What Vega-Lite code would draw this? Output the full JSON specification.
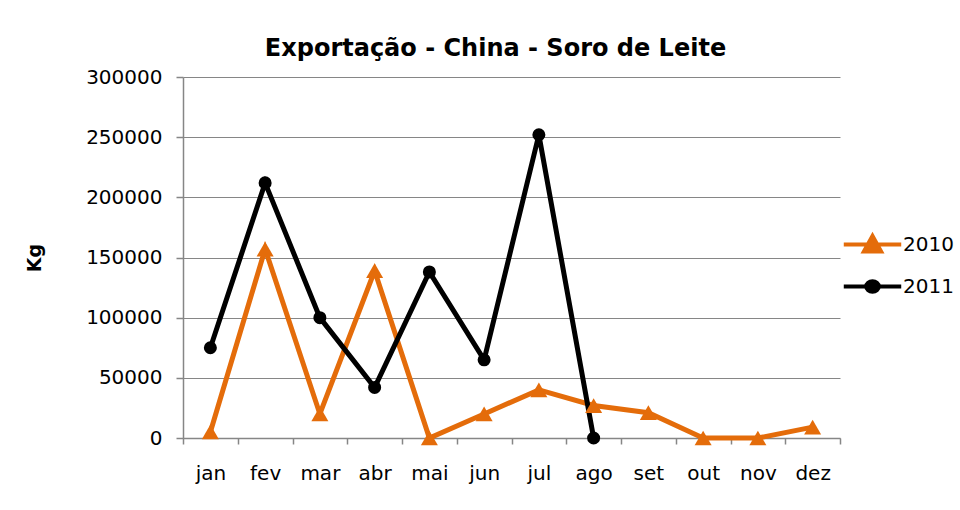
{
  "$schema": "https://vega.github.io/schema/vega-lite/v6.json",
  "autosize": {"type": "none"},
  "width": 657,
  "height": 361,
  "padding": {"left": 183, "top": 77, "right": 120, "bottom": 72},
  "background": "white",
  "title": {
    "text": "Exportação - China - Soro de Leite",
    "font": "DejaVu Sans",
    "fontSize": 24,
    "fontWeight": "bold",
    "color": "#000000",
    "anchor": "middle",
    "frame": "group",
    "baseline": "alphabetic",
    "offset": 22,
    "dx": -16,
    "dy": 35
  },
  "config": {
    "view": {"stroke": null},
    "font": "DejaVu Sans",
    "axis": {
      "labelFont": "DejaVu Sans",
      "labelColor": "#000000",
      "domainColor": "#868686",
      "tickColor": "#868686",
      "gridColor": "#868686",
      "gridWidth": 1,
      "domainWidth": 1.5,
      "tickWidth": 1.5
    }
  },
  "data": {
    "values": [
      {"mes": "jan", "ano": "2010", "kg": 5000},
      {"mes": "fev", "ano": "2010", "kg": 157000},
      {"mes": "mar", "ano": "2010", "kg": 20000},
      {"mes": "abr", "ano": "2010", "kg": 139000},
      {"mes": "mai", "ano": "2010", "kg": 0},
      {"mes": "jun", "ano": "2010", "kg": 20000},
      {"mes": "jul", "ano": "2010", "kg": 40000},
      {"mes": "ago", "ano": "2010", "kg": 27000},
      {"mes": "set", "ano": "2010", "kg": 21000},
      {"mes": "out", "ano": "2010", "kg": 0},
      {"mes": "nov", "ano": "2010", "kg": 0},
      {"mes": "dez", "ano": "2010", "kg": 9000},
      {"mes": "jan", "ano": "2011", "kg": 75000},
      {"mes": "fev", "ano": "2011", "kg": 212000},
      {"mes": "mar", "ano": "2011", "kg": 100000},
      {"mes": "abr", "ano": "2011", "kg": 42000},
      {"mes": "mai", "ano": "2011", "kg": 138000},
      {"mes": "jun", "ano": "2011", "kg": 65000},
      {"mes": "jul", "ano": "2011", "kg": 252000},
      {"mes": "ago", "ano": "2011", "kg": 0}
    ]
  },
  "encoding": {
    "x": {
      "field": "mes",
      "type": "nominal",
      "sort": ["jan", "fev", "mar", "abr", "mai", "jun", "jul", "ago", "set", "out", "nov", "dez"],
      "scale": {"type": "band", "paddingInner": 0, "paddingOuter": 0},
      "axis": {
        "title": null,
        "labelAngle": 0,
        "labelFontSize": 20,
        "labelPadding": 19,
        "tickSize": 6,
        "tickBand": "extent",
        "grid": false,
        "domain": true
      }
    },
    "y": {
      "field": "kg",
      "type": "quantitative",
      "scale": {"domain": [0, 300000], "nice": false},
      "axis": {
        "title": "Kg",
        "titleFont": "DejaVu Sans",
        "titleFontSize": 19,
        "titleFontWeight": "bold",
        "titleColor": "#000000",
        "titlePadding": 41,
        "values": [0, 50000, 100000, 150000, 200000, 250000, 300000],
        "format": "d",
        "labelFontSize": 20,
        "labelPadding": 14,
        "tickSize": 7,
        "grid": true,
        "domain": true
      }
    },
    "color": {
      "field": "ano",
      "type": "nominal",
      "scale": {"domain": ["2010", "2011"], "range": ["#E46C0A", "#000000"]},
      "legend": {
        "title": null,
        "orient": "none",
        "legendX": 673,
        "legendY": 151,
        "rowPadding": 10,
        "symbolSize": 825,
        "symbolStrokeWidth": 4,
        "labelFontSize": 20,
        "labelFont": "DejaVu Sans",
        "labelColor": "#000000",
        "labelOffset": 14,
        "encode": {
          "symbols": {
            "update": {
              "shape": {"signal": "datum.value == '2010' ? 'M-2,0H2M-0.6,0.48L0,-0.6L0.6,0.48Z' : 'M-2,0H2M0.44,0A0.44,0.36 0 1,1 -0.44,0A0.44,0.36 0 1,1 0.44,0Z'"},
              "fill": {"signal": "datum.value == '2010' ? '#E46C0A' : '#000000'"},
              "fillOpacity": {"value": 1}
            }
          }
        }
      }
    }
  },
  "layer": [
    {
      "mark": {"type": "line", "strokeWidth": 5, "strokeJoin": "miter"},
      "encoding": {}
    },
    {
      "transform": [{"filter": "datum.ano == '2010'"}],
      "mark": {"type": "point", "shape": "triangle-up", "filled": true, "size": 290, "opacity": 1},
      "encoding": {"color": {"field": "ano", "type": "nominal", "legend": null}}
    },
    {
      "transform": [{"filter": "datum.ano == '2011'"}],
      "mark": {"type": "point", "shape": "circle", "filled": true, "size": 170, "opacity": 1},
      "encoding": {"color": {"field": "ano", "type": "nominal", "legend": null}}
    }
  ]
}
